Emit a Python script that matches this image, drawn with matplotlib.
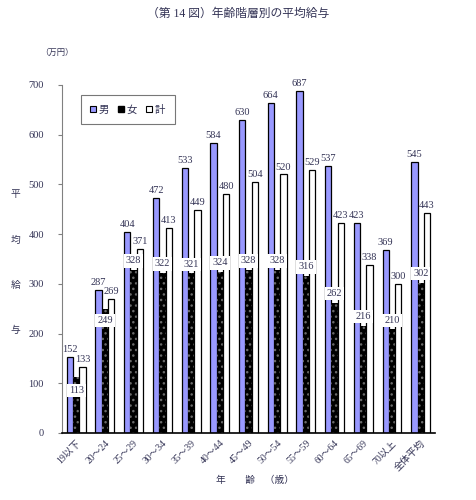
import matplotlib
matplotlib.use("Agg")
import matplotlib.pyplot as plt
import numpy as np

categories = ["19以下", "20～24", "25～29", "30～34", "35～39", "40～44", "45～49",
              "50～54", "55～59", "60～64", "65～69", "70以上", "全体平均"]
male = [152, 287, 404, 472, 533, 584, 630, 664, 687, 537, 423, 369, 545]
female = [113, 249, 328, 322, 321, 324, 328, 328, 316, 262, 216, 210, 302]
total = [133, 269, 371, 413, 449, 480, 504, 520, 529, 423, 338, 300, 443]
yticks = [0, 100, 200, 300, 400, 500, 600, 700]

# label offsets for female value boxes (style only)
f_off = [-27, -23, 18, 18, 18, 18, 18, 18, 18, 18, 18, 16, 18]

FAM = ["Liberation Serif", "Noto Sans CJK JP"]
plt.rcParams["font.family"] = FAM

fig = plt.figure(figsize=(4.76, 5.0), dpi=100)
ax = fig.add_axes([0.130, 0.134, 0.784, 0.696])

x = np.arange(len(categories)) + 0.5
w = 0.22
ax.bar(x - w, male, w, color="#9999FF", edgecolor="black", linewidth=0.9, zorder=2)
ax.bar(x, female, w, color="black", edgecolor="#6a6a6a", linewidth=0, hatch="...", zorder=2)
ax.bar(x + w, total, w, color="white", edgecolor="black", linewidth=0.9, zorder=2)

tc = "#333355"
for xi, m, f, t, o in zip(x, male, female, total, f_off):
    ax.text(xi - w, m + 6, str(m), ha="center", va="bottom", fontsize=7.5, color=tc, zorder=4)
    ax.text(xi + w, t + 6, str(t), ha="center", va="bottom", fontsize=7.5, color=tc, zorder=4)
    ax.text(xi, f + o, str(f), ha="center", va="center", fontsize=7.5, color=tc, zorder=5,
            bbox=dict(facecolor="white", edgecolor="none", pad=1.5))

ax.set_xlim(0, len(categories))
ax.set_ylim(0, 700)
ax.set_yticks(yticks)
ax.set_yticklabels([str(v) for v in yticks], fontsize=7.5, color=tc)
ax.set_xticks(x)
ax.set_xticklabels(categories, rotation=45, ha="right", rotation_mode="anchor",
                   fontsize=7, color=tc)
ax.tick_params(axis="x", length=0, pad=4)
ax.tick_params(axis="y", length=3, width=0.8, color="#808080", pad=10)
for s in ["top", "right"]:
    ax.spines[s].set_visible(False)
ax.spines["left"].set_color("#808080")
ax.spines["bottom"].set_color("black")
ax.spines["bottom"].set_linewidth(1.2)

# legend
from matplotlib.patches import Patch
handles = [Patch(facecolor="#9999FF", edgecolor="black", linewidth=0.8),
           Patch(facecolor="black", edgecolor="black"),
           Patch(facecolor="white", edgecolor="black", linewidth=0.8)]
leg = ax.legend(handles, ["男", "女", "計"], ncol=3, loc="upper left",
                bbox_to_anchor=(0.037, 0.985), fontsize=7.5, frameon=True,
                fancybox=False, edgecolor="#555555", handlelength=0.55,
                handleheight=0.55, handletextpad=0.25, columnspacing=0.9,
                borderpad=0.9, labelcolor=tc)
leg.get_frame().set_linewidth(0.8)

fig.text(0.5, 0.972, "（第 14 図）年齢階層別の平均給与", ha="center", va="center",
         fontsize=8.5, color=tc)
fig.text(0.085, 0.895, "（万円）", ha="left", va="center", fontsize=6, color=tc)
for ch, yy in zip("平均給与", [195, 240, 285, 330]):
    fig.text(0.032, 1 - yy / 500, ch, ha="center", va="center", fontsize=7, color=tc)
fig.text(0.535, 0.04, "年　　齢　（歳）", ha="center", va="center", fontsize=7, color=tc)

fig.savefig("out.png", dpi=100)
